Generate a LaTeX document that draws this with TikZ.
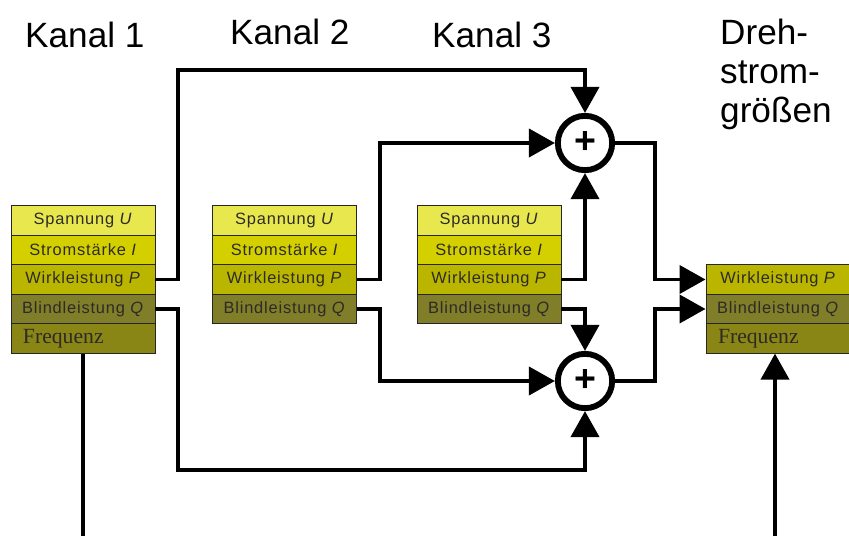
\documentclass[tikz,border=0pt]{standalone}
\usepackage{fontspec}
\setmainfont{Liberation Sans}
\newfontfamily\zeilenfont[LetterSpace=5]{Liberation Sans}
\newfontfamily\serifschrift{Liberation Serif}
\usetikzlibrary{arrows.meta}

\definecolor{uFarbe}{RGB}{232,232,78}
\definecolor{iFarbe}{RGB}{212,208,0}
\definecolor{pFarbe}{RGB}{186,182,0}
\definecolor{qFarbe}{RGB}{128,126,40}
\definecolor{fFarbe}{RGB}{138,134,22}

\begin{document}
\begin{tikzpicture}[x=0.03cm,y=-0.03cm,
  zeile/.style={draw=black!85,line width=0.8pt,minimum width=4.32cm,minimum height=0.88cm,inner sep=0pt,text=black!90!olive,font=\zeilenfont\fontsize{14}{16}\selectfont},
  frequenz/.style={zeile,text width=3.6cm,inner xsep=0.36cm,align=left,font=\serifschrift\fontsize{18.5}{20}\selectfont},
  summe/.style={circle,draw=black,line width=5pt,minimum size=1.63cm,inner sep=0pt,fill=white,font=\bfseries\fontsize{32}{32}\selectfont},
  leitung/.style={line width=3.4pt},
  pfeil/.style={leitung,-{Triangle[length=0.78cm,width=0.84cm]}},
  kanal/.style={anchor=base west,inner sep=0pt,font=\fontsize{30}{33}\selectfont}]

\useasboundingbox (0,0) rectangle (849,536);

%TITEL
\node[kanal](t1) at (25,48) {Kanal 1};
\node[kanal](t2) at (230,45) {Kanal 2};
\node[kanal](t3) at (432,48) {Kanal 3};
\node[kanal,anchor=north west,align=left](t4) at (720,19) {Dreh-\\strom-\\größen};
%TITEL

\node[zeile,fill=uFarbe](k1u) at (83,220.5) {Spannung \textit{U}};
\node[zeile,fill=iFarbe](k1i) at (83,250) {Stromstärke \textit{I}};
\node[zeile,fill=pFarbe](k1p) at (83,279.5) {Wirkleistung \textit{P}};
\node[zeile,fill=qFarbe](k1q) at (83,309) {Blindleistung \textit{Q}};
\node[frequenz,fill=fFarbe](k1f) at (83,338.5) {Frequenz};

\node[zeile,fill=uFarbe](k2u) at (284.5,220.5) {Spannung \textit{U}};
\node[zeile,fill=iFarbe](k2i) at (284.5,250) {Stromstärke \textit{I}};
\node[zeile,fill=pFarbe](k2p) at (284.5,279.5) {Wirkleistung \textit{P}};
\node[zeile,fill=qFarbe](k2q) at (284.5,309) {Blindleistung \textit{Q}};

\node[zeile,fill=uFarbe](k3u) at (489,220.5) {Spannung \textit{U}};
\node[zeile,fill=iFarbe](k3i) at (489,250) {Stromstärke \textit{I}};
\node[zeile,fill=pFarbe](k3p) at (489,279.5) {Wirkleistung \textit{P}};
\node[zeile,fill=qFarbe](k3q) at (489,309) {Blindleistung \textit{Q}};

\node[zeile,fill=pFarbe](k4p) at (778,279.5) {Wirkleistung \textit{P}};
\node[zeile,fill=qFarbe](k4q) at (778,309) {Blindleistung \textit{Q}};
\node[frequenz,fill=fFarbe](k4f) at (778,338.5) {Frequenz};

\node[summe](s1) at (585,143) {+};
\node[summe](s2) at (585,381) {+};

%RAND
\coordinate (f1) at (83,536);
\coordinate (f4) at (775,536);
%RAND

\draw[pfeil] (k1p.east) -| (178,70) -| (s1.north);
\draw[pfeil] (k1q.east) -| (178,470) -| (s2.south);

\draw[pfeil] (k2p.east) -- ++(23,0) |- (s1.west);
\draw[pfeil] (k2q.east) -- ++(23,0) |- (s2.west);

\draw[pfeil] (k3p.east) -| (s1.south);
\draw[pfeil] (k3q.east) -| (s2.north);

\draw[pfeil] (s1.east) -- ++(40,0) |- (k4p.west);
\draw[pfeil] (s2.east) -- ++(40,0) |- (k4q.west);

\draw[leitung] (k1f.south) -- (f1);
\draw[pfeil] (f4) -- (k4f.south -| f4);

\end{tikzpicture}
\end{document}
